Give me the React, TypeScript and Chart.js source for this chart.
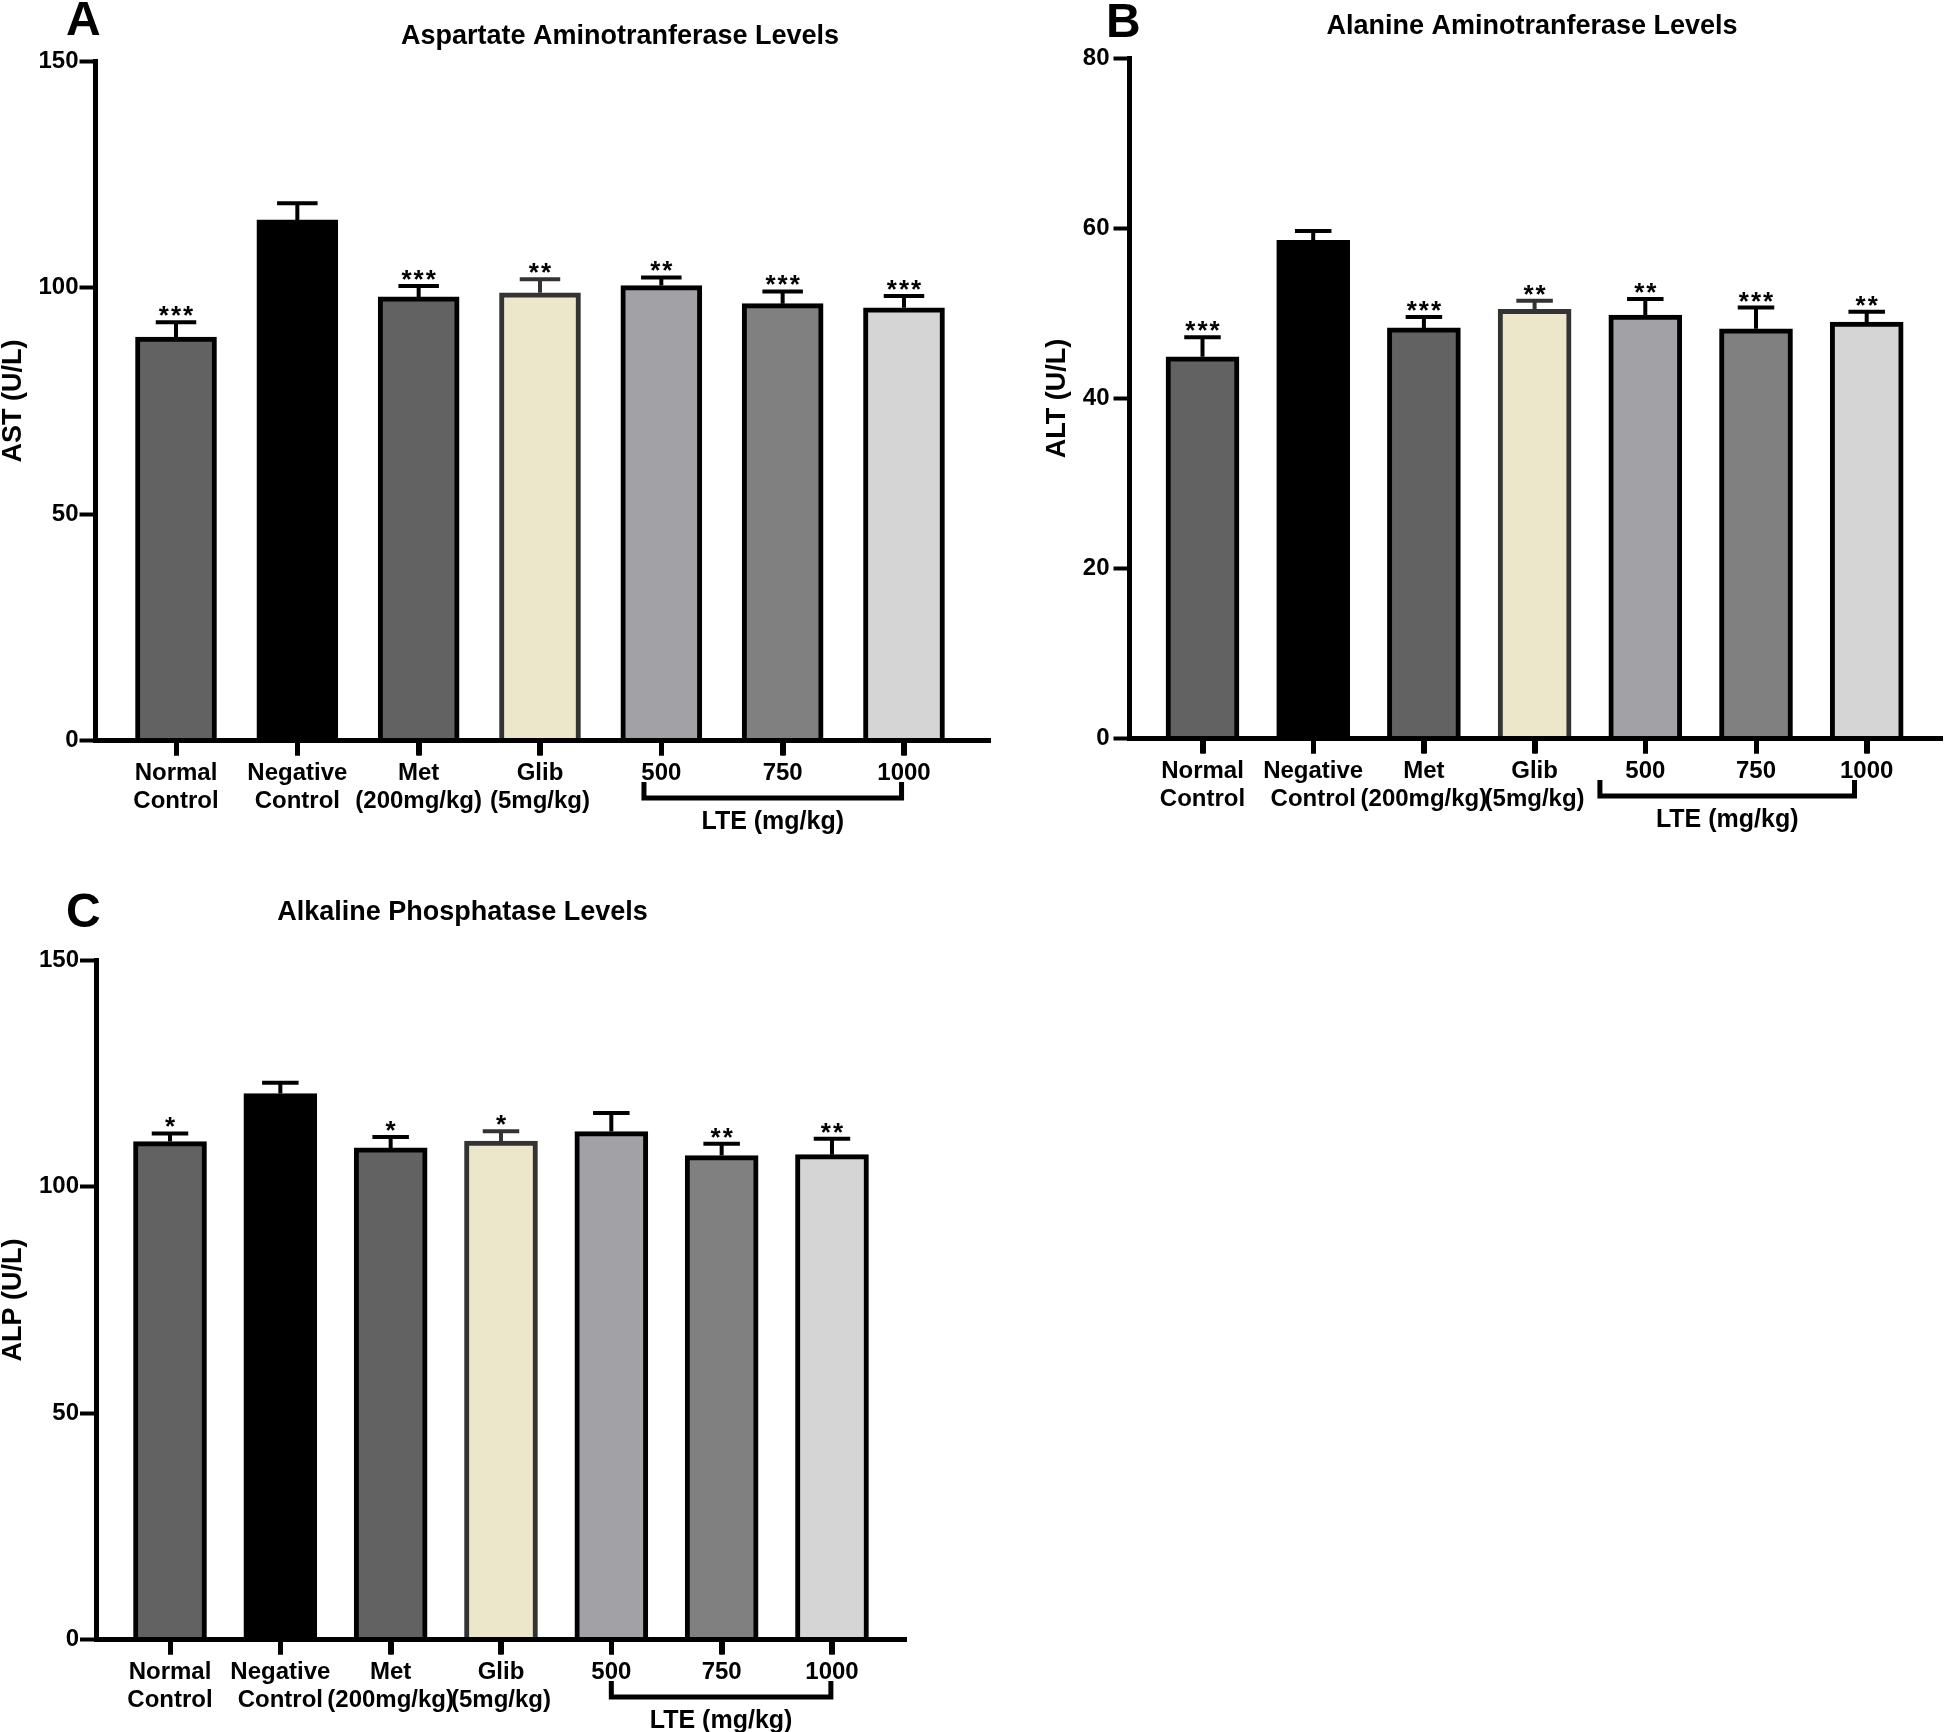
import React, { useEffect, useRef } from "react";
import { Chart, registerables } from "chart.js";

Chart.register(...registerables);

// ---------- data ----------
const GROUPS: (string | string[])[] = [
  ["Normal", "Control"],
  ["Negative", "Control"],
  ["Met", "(200mg/kg)"],
  ["Glib", "(5mg/kg)"],
  "500",
  "750",
  "1000",
];

const AST_MEAN = [89.1, 115.0, 98.0, 98.9, 100.5, 96.5, 95.6];
const AST_SEM = [3.3, 3.7, 2.4, 3.0, 1.8, 2.7, 2.6];
const AST_SIG = ["***", "", "***", "**", "**", "***", "***"];

const ALT_MEAN = [44.9, 58.6, 48.3, 50.5, 49.8, 48.2, 49.0];
const ALT_SEM = [2.3, 1.1, 1.3, 1.0, 1.9, 2.5, 1.2];
const ALT_SIG = ["***", "", "***", "**", "**", "***", "**"];

const ALP_MEAN = [110.0, 120.6, 108.6, 110.1, 112.2, 106.9, 107.1];
const ALP_SEM = [1.8, 2.4, 2.4, 2.2, 4.1, 2.6, 3.5];
const ALP_SIG = ["*", "", "*", "*", "", "**", "**"];

const FILLS = ["#626262", "#000000", "#626262", "#ece6cb", "#a2a1a6", "#808080", "#d5d5d5"];
const EDGES = ["#000000", "#000000", "#000000", "#333333", "#000000", "#000000", "#000000"];

const LTE_LABEL = "LTE (mg/kg)";

const FONT = "'Liberation Sans', Arial, Helvetica, sans-serif";

// ---------- layout ----------
type Panel = {
  letter: string;
  title: string;
  yTitle: string;
  mean: number[];
  sem: number[];
  sig: string[];
  yMax: number;
  yStep: number;
  box: { left: number; top: number; width: number; height: number };
  area: { left: number; top: number; right: number; bottom: number };
  c0: number;
  step: number;
  barW: number;
  padLeft: number;
  yTickPad: number;
  letterPos: { x: number; y: number };
  titlePos: { x: number; y: number };
  bracket: [number, number];
};

const PANELS: Panel[] = [
  {
    letter: "A",
    title: "Aspartate Aminotranferase Levels",
    yTitle: "AST (U/L)",
    mean: AST_MEAN,
    sem: AST_SEM,
    sig: AST_SIG,
    yMax: 150,
    yStep: 50,
    box: { left: 0, top: 0, width: 1000, height: 860 },
    area: { left: 95.5, top: 61.5, right: 990, bottom: 740.5 },
    c0: 176,
    step: 121.33,
    barW: 81,
    padLeft: 0,
    yTickPad: 1,
    letterPos: { x: 66, y: 35 },
    titlePos: { x: 620, y: 37 },
    bracket: [3.857, 5.98],
  },
  {
    letter: "B",
    title: "Alanine Aminotranferase Levels",
    yTitle: "ALT (U/L)",
    mean: ALT_MEAN,
    sem: ALT_SEM,
    sig: ALT_SIG,
    yMax: 80,
    yStep: 20,
    box: { left: 1000, top: 0, width: 945, height: 860 },
    area: { left: 129.5, top: 58.5, right: 942, bottom: 738.5 },
    c0: 202.5,
    step: 110.7,
    barW: 73,
    padLeft: 44,
    yTickPad: 4,
    letterPos: { x: 106, y: 37 },
    titlePos: { x: 532, y: 27 },
    bracket: [3.59, 5.89],
  },
  {
    letter: "C",
    title: "Alkaline Phosphatase Levels",
    yTitle: "ALP (U/L)",
    mean: ALP_MEAN,
    sem: ALP_SEM,
    sig: ALP_SIG,
    yMax: 150,
    yStep: 50,
    box: { left: 0, top: 870, width: 1000, height: 862 },
    area: { left: 96, top: 90.5, right: 906, bottom: 769.5 },
    c0: 170,
    step: 110.33,
    barW: 73,
    padLeft: 0,
    yTickPad: 1,
    letterPos: { x: 66, y: 57 },
    titlePos: { x: 462.5, y: 43 },
    bracket: [4.0, 5.99],
  },
];

function makeChart(canvas: HTMLCanvasElement, p: Panel): Chart {
  const xMin = (p.area.left - p.c0) / p.step;
  const xMax = (p.area.right - p.c0) / p.step;
  const yAxisW = p.area.left - p.padLeft;
  const xAxisH = p.box.height - p.area.bottom;
  const capW = p.barW / 2;

  const annot = {
    id: "annot" + p.letter,
    afterDatasetsDraw(chart: any) {
      const ctx: CanvasRenderingContext2D = chart.ctx;
      const xs = chart.scales.x;
      const ys = chart.scales.y;
      ctx.save();
      p.mean.forEach((m, i) => {
        const x = xs.getPixelForValue(i);
        const yBar = ys.getPixelForValue(m);
        const yCap = ys.getPixelForValue(m + p.sem[i]);
        ctx.strokeStyle = EDGES[i];
        ctx.lineWidth = 4;
        ctx.lineCap = "butt";
        ctx.beginPath();
        ctx.moveTo(x, yBar);
        ctx.lineTo(x, yCap);
        ctx.moveTo(x - capW / 2, yCap);
        ctx.lineTo(x + capW / 2, yCap);
        ctx.stroke();
        if (p.sig[i]) {
          ctx.fillStyle = "#000";
          ctx.font = `bold 26px ${FONT}`;
          ctx.textAlign = "center";
          ctx.textBaseline = "alphabetic";
          (ctx as any).letterSpacing = "2px";
          ctx.fillText(p.sig[i], x + 1, yCap + 2);
          (ctx as any).letterSpacing = "0px";
        }
      });
      ctx.restore();
    },
    afterDraw(chart: any) {
      const ctx: CanvasRenderingContext2D = chart.ctx;
      const xs = chart.scales.x;
      const axisY = chart.chartArea.bottom;
      ctx.save();
      // category tick marks below the x axis
      ctx.strokeStyle = "#000";
      ctx.lineWidth = 5;
      ctx.lineCap = "butt";
      GROUPS.forEach((_, i) => {
        const x = Math.round(xs.getPixelForValue(i)) + 0.5;
        ctx.beginPath();
        ctx.moveTo(x, axisY + 2);
        ctx.lineTo(x, axisY + 15);
        ctx.stroke();
      });
      ctx.fillStyle = "#000";
      // panel letter
      ctx.font = `bold 48px ${FONT}`;
      ctx.textAlign = "left";
      ctx.textBaseline = "alphabetic";
      ctx.fillText(p.letter, p.letterPos.x, p.letterPos.y);
      // title
      ctx.font = `bold 27px ${FONT}`;
      ctx.textAlign = "center";
      ctx.textBaseline = "middle";
      ctx.fillText(p.title, p.titlePos.x, p.titlePos.y);
      // bracket under the LTE doses
      const xL = xs.getPixelForValue(p.bracket[0]);
      const xR = xs.getPixelForValue(p.bracket[1]);
      const hY = axisY + 57.5;
      const tY = axisY + 41.5;
      ctx.lineJoin = "miter";
      ctx.beginPath();
      ctx.moveTo(xL, tY);
      ctx.lineTo(xL, hY);
      ctx.lineTo(xR, hY);
      ctx.lineTo(xR, tY);
      ctx.stroke();
      ctx.font = `bold 25px ${FONT}`;
      ctx.textAlign = "center";
      ctx.textBaseline = "alphabetic";
      ctx.fillText(LTE_LABEL, (xL + xR) / 2, axisY + 88);
      ctx.restore();
    },
  };

  return new Chart(canvas, {
    type: "bar",
    data: {
      datasets: [
        {
          data: p.mean.map((v, i) => ({ x: i, y: v })),
          backgroundColor: FILLS,
          borderColor: EDGES,
          borderWidth: 5,
          borderSkipped: "start",
          barThickness: p.barW,
        } as any,
      ],
    },
    options: {
      responsive: false,
      animation: false,
      events: [],
      devicePixelRatio: 1,
      layout: {
        padding: {
          left: p.padLeft,
          top: p.area.top,
          right: p.box.width - p.area.right,
          bottom: 0,
        },
      },
      plugins: {
        legend: { display: false },
        tooltip: { enabled: false },
        title: { display: false },
      },
      scales: {
        x: {
          type: "linear",
          min: xMin,
          max: xMax,
          offset: false,
          afterBuildTicks: (s: any) => {
            s.ticks = GROUPS.map((_, i) => ({ value: i }));
          },
          afterFit: (s: any) => {
            s.height = xAxisH;
          },
          ticks: {
            autoSkip: false,
            maxRotation: 0,
            minRotation: 0,
            padding: 4,
            color: "#000",
            font: { family: FONT, size: 24, weight: "bold", lineHeight: 28 / 24 },
            callback: (v: any) => GROUPS[v as number] ?? "",
          },
          grid: {
            display: true,
            offset: false,
            drawOnChartArea: false,
            drawTicks: true,
            tickLength: 15,
            tickWidth: 5,
            tickColor: "#000",
          },
          border: { display: true, width: 5, color: "#000", z: 1 },
        } as any,
        y: {
          min: 0,
          max: p.yMax,
          afterFit: (s: any) => {
            s.width = yAxisW;
          },
          ticks: {
            stepSize: p.yStep,
            padding: p.yTickPad,
            color: "#000",
            font: { family: FONT, size: 24, weight: "bold" },
          },
          grid: {
            display: true,
            offset: false,
            drawOnChartArea: false,
            drawTicks: true,
            tickLength: 16,
            tickWidth: 4,
            tickColor: "#000",
          },
          border: { display: true, width: 5, color: "#000" },
          title: {
            display: true,
            text: p.yTitle,
            color: "#000",
            padding: 0,
            font: { family: FONT, size: 27, weight: "bold", lineHeight: 1 },
          },
        } as any,
      },
    } as any,
    plugins: [annot],
  });
}

export default function App() {
  const refs = [useRef<HTMLCanvasElement>(null), useRef<HTMLCanvasElement>(null), useRef<HTMLCanvasElement>(null)];

  useEffect(() => {
    const charts: Chart[] = [];
    PANELS.forEach((p, i) => {
      const c = refs[i].current;
      if (c) charts.push(makeChart(c, p));
    });
    return () => charts.forEach((c) => c.destroy());
  }, []);

  return (
    <div
      style={{
        position: "absolute",
        left: 0,
        top: 0,
        width: 1945,
        height: 1732,
        background: "#ffffff",
        overflow: "hidden",
      }}
    >
      {PANELS.map((p, i) => (
        <canvas
          key={p.letter}
          ref={refs[i]}
          width={p.box.width}
          height={p.box.height}
          style={{
            position: "absolute",
            left: p.box.left,
            top: p.box.top,
            width: p.box.width,
            height: p.box.height,
          }}
        />
      ))}
    </div>
  );
}
